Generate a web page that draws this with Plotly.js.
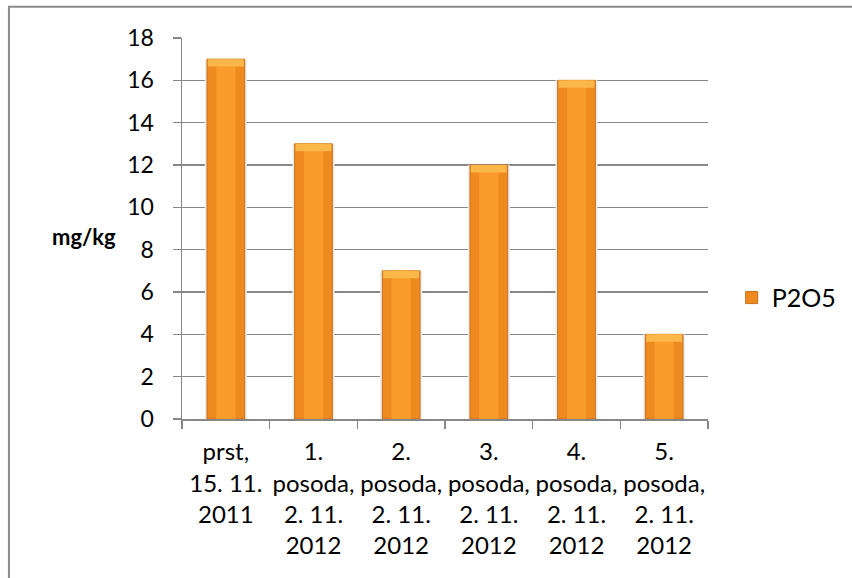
<!DOCTYPE html>
<html>
<head>
<meta charset="utf-8">
<script src="https://cdn.plot.ly/plotly-3.0.1.min.js"></script>
<style>html,body{margin:0;padding:0;background:#fff;}#chart{width:852px;height:578px;}</style>
</head>
<body>
<div id="chart"></div>
<script>
var categories = ["c0", "c1", "c2", "c3", "c4", "c5"];
var tickLabels = [
  "prst,<br>15. 11.<br>2011",
  "1.<br>posoda,<br>2. 11.<br>2012",
  "2.<br>posoda,<br>2. 11.<br>2012",
  "3.<br>posoda,<br>2. 11.<br>2012",
  "4.<br>posoda,<br>2. 11.<br>2012",
  "5.<br>posoda,<br>2. 11.<br>2012"
];
var p2o5 = [17, 13, 7, 12, 16, 4];
var seriesName = "P2O5";
var yTitle = "mg/kg";

var FONT = "Lato, 'Open Sans', sans-serif";
var capH = 0.35;

var traces = [
  {type: "bar", x: categories, y: p2o5, width: 0.48, showlegend: false, hoverinfo: "skip",
   marker: {color: "#EDEDED", line: {width: 0}}},
  {type: "bar", x: categories, y: p2o5, width: 0.43, name: seriesName,
   marker: {color: "#EE8A20", line: {color: "#C9701C", width: 1}}},
  {type: "bar", x: categories, y: p2o5, width: 0.22, showlegend: false, hoverinfo: "skip",
   marker: {color: "#F99C2C", line: {width: 0}}},
  {type: "bar", x: categories, y: p2o5.map(function(){return capH;}), base: p2o5.map(function(v){return v - capH;}),
   width: 0.41, showlegend: false, hoverinfo: "skip",
   marker: {color: "#FBB748", line: {width: 0}}}
];

var layout = {
  width: 852, height: 578,
  margin: {l: 182, r: 144, t: 38, b: 159, autoexpand: false},
  paper_bgcolor: "#fff", plot_bgcolor: "#fff",
  barmode: "overlay",
  font: {family: FONT, size: 23, color: "#000"},
  showlegend: true,
  legend: {x: 1.045, y: 0.318, xanchor: "left", yanchor: "middle", itemwidth: 30,
           font: {family: FONT, size: 25, color: "#000"}, bgcolor: "rgba(0,0,0,0)"},
  xaxis: {
    type: "category", tickvals: categories, ticktext: tickLabels, tickangle: 0,
    tickson: "boundaries", ticks: "outside", ticklen: 8, tickwidth: 1.5, tickcolor: "#878787",
    showline: true, linecolor: "#878787", linewidth: 1.5, automargin: false,
    showgrid: false, zeroline: false, ticklabelstandoff: 11,
    tickfont: {family: FONT, size: 24, color: "#000"}
  },
  yaxis: {
    range: [0, 18], dtick: 2, ticks: "outside", ticklen: 8, tickwidth: 1.5, tickcolor: "#878787",
    showline: true, linecolor: "#878787", linewidth: 1.5, automargin: false,
    showgrid: true, gridcolor: "#878787", gridwidth: 1.5, zeroline: false,
    ticklabelstandoff: 14,
    tickfont: {family: FONT, size: 23, color: "#000"}
  },
  annotations: [
    {text: "<b>" + yTitle + "</b>", xref: "paper", yref: "paper", x: -0.186, y: 0.478,
     xanchor: "center", yanchor: "middle", showarrow: false,
     font: {family: FONT, size: 22, color: "#000"}}
  ],
  shapes: [
    {type: "rect", xref: "paper", yref: "paper", x0: -0.329, x1: 1.4, y0: -0.5, y1: 1.082,
     line: {color: "#8C8C8C", width: 2}, fillcolor: "rgba(0,0,0,0)", layer: "below"}
  ]
};

Plotly.newPlot("chart", traces, layout, {displayModeBar: false, staticPlot: true});
</script>
</body>
</html>
